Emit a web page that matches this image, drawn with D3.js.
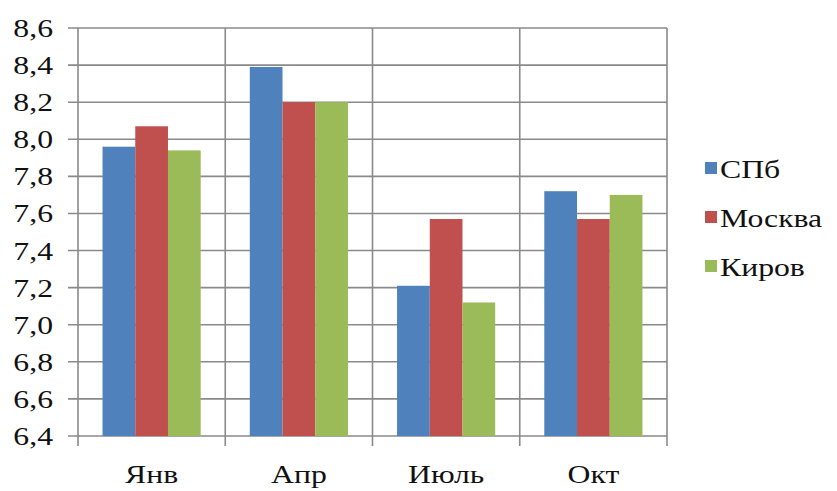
<!DOCTYPE html>
<html>
<head>
<meta charset="utf-8">
<script src="https://cdn.jsdelivr.net/npm/d3@7/dist/d3.min.js"></script>
<style>
  html, body { margin: 0; padding: 0; background: #fff; }
  svg { display: block; }
</style>
</head>
<body>
<svg id="chart" width="837" height="491"></svg>
<script>
// Monthly values per city
const months = ["Янв", "Апр", "Июль", "Окт"];
const cities = ["СПб", "Москва", "Киров"];
const spb    = [7.96, 8.39, 7.21, 7.72];
const moscow = [8.07, 8.20, 7.57, 7.57];
const kirov  = [7.94, 8.20, 7.12, 7.70];
const yTicks = [6.4, 6.6, 6.8, 7.0, 7.2, 7.4, 7.6, 7.8, 8.0, 8.2, 8.4, 8.6];
const colors = ["#4F81BD", "#C0504D", "#9BBB59"];

const seriesValues = [spb, moscow, kirov];
const rows = months.map((m, i) => ({ month: m, values: cities.map((c, j) => ({ city: c, value: seriesValues[j][i] })) }));

const svg = d3.select("#chart");
const plotLeft = 78, plotRight = 667, plotTop = 28, plotBottom = 436;
const gridColor = "#8a8a8a";
const serif = '"Liberation Serif"';
const fontSize = 26;
const stretch = 1.22; // labels are set slightly wide

const ru = d3.formatLocale({ decimal: ",", thousands: " ", grouping: [3], currency: ["", " ₽"] });
const fmt = ru.format(".1f");

const x0 = d3.scaleBand().domain(months).range([plotLeft, plotRight]).padding(0);
const bw = x0.bandwidth();
const x1 = d3.scaleBand().domain(cities).range([bw / 6, bw * 5 / 6]).padding(0);
const y = d3.scaleLinear().domain([6.4, 8.6]).range([plotBottom, plotTop]);
const color = d3.scaleOrdinal().domain(cities).range(colors);

// Horizontal gridlines with outward ticks
svg.append("g").selectAll("line").data(yTicks).join("line")
  .attr("x1", plotLeft - 10).attr("x2", plotRight)
  .attr("y1", d => y(d)).attr("y2", d => y(d))
  .attr("stroke", gridColor).attr("stroke-width", 1.6);

// Vertical gridlines at category boundaries (extend below axis as ticks)
const bounds = months.map(m => x0(m)).concat([plotRight]);
svg.append("g").selectAll("line").data(bounds).join("line")
  .attr("x1", d => d).attr("x2", d => d)
  .attr("y1", plotTop).attr("y2", plotBottom + 10)
  .attr("stroke", gridColor).attr("stroke-width", 1.6);

// Bars
svg.append("g").selectAll("g").data(rows).join("g")
  .attr("transform", d => `translate(${x0(d.month)},0)`)
  .selectAll("rect").data(d => d.values).join("rect")
  .attr("x", d => x1(d.city))
  .attr("width", x1.bandwidth())
  .attr("y", d => y(d.value))
  .attr("height", d => y(6.4) - y(d.value))
  .attr("fill", d => color(d.city));

// Y tick labels
svg.append("g").selectAll("text").data(yTicks).join("text")
  .attr("transform", d => `translate(53,${y(d) + 9}) scale(${stretch},1)`)
  .attr("text-anchor", "end")
  .attr("font-size", fontSize)
  .style("font-family", serif).style("fill", "#111")
  .text(d => fmt(d));

// X category labels
svg.append("g").selectAll("text").data(months).join("text")
  .attr("transform", d => `translate(${x0(d) + bw / 2},483) scale(${stretch},1)`)
  .attr("text-anchor", "middle")
  .attr("font-size", fontSize)
  .style("font-family", serif).style("fill", "#111")
  .text(d => d);

// Legend
const legend = svg.append("g").selectAll("g").data(cities).join("g")
  .attr("transform", (d, i) => `translate(705,${162 + i * 49})`);
legend.append("rect").attr("width", 12).attr("height", 12).attr("fill", d => color(d));
legend.append("text")
  .attr("transform", `translate(15,16) scale(${stretch},1)`)
  .attr("font-size", fontSize)
  .style("font-family", serif).style("fill", "#111")
  .text(d => d);
</script>
</body>
</html>
